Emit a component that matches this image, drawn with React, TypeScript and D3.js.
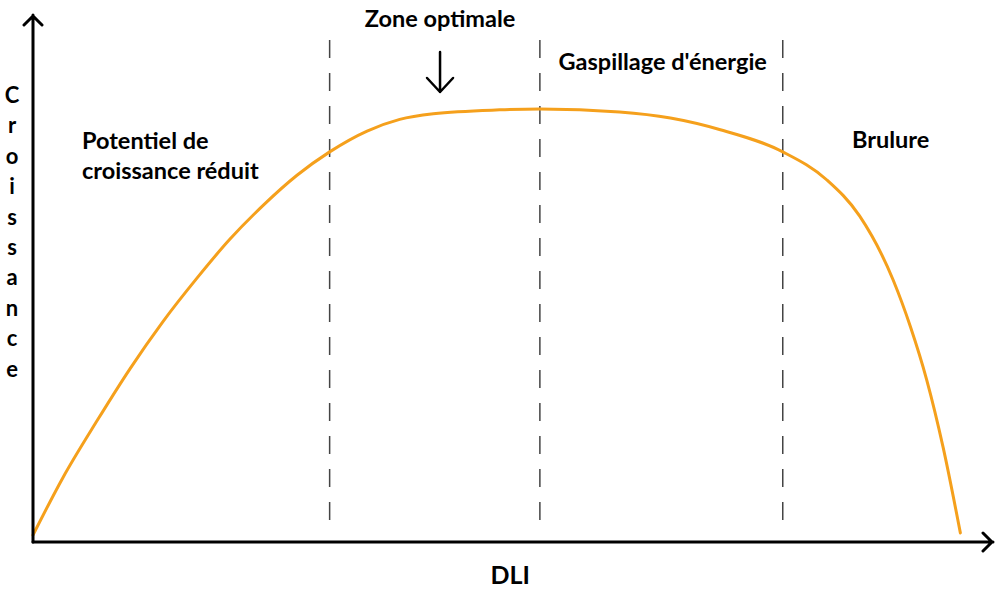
import React, { useEffect, useRef } from "react";
import * as d3 from "d3";

const width = 1000;
const height = 591;
const space = {
    originX: 33,
    originY: 542,
    axisTop: 15,
    axisRight: 993,
};

// DLI (relative units) and growth (% of max)
const dli = [0, 3.1, 6.7, 10.1, 13.5, 17.1, 20.5, 24.0, 27.5, 30.9, 34.8, 38.2, 41.7, 48.6, 52.8, 61.1, 66.4, 71.6, 78.1, 82.7, 86.1, 89.6, 91.4, 93.1, 94.8, 96.6];
const growth = [1.6, 14.8, 28.1, 40.0, 50.8, 61.0, 69.9, 77.8, 84.7, 90.1, 94.9, 97.6, 98.9, 99.8, 100, 99.3, 97.9, 95.2, 90.1, 83.6, 75.3, 60.5, 49.7, 37.4, 21.9, 2.1];

// zone boundaries on the DLI axis
const boundaries = [30.9, 52.8, 78.1];

const yLabel = "Croissance";
const xLabel = "DLI";
const zoneLabels = [
    { lines: ["Potentiel de", "croissance réduit"], x: 5.1, y: 90.7, anchor: "start" },
    { lines: ["Zone optimale"], x: 42.4, y: 119, anchor: "middle" },
    { lines: ["Gaspillage d'énergie"], x: 65.6, y: 109, anchor: "middle" },
    { lines: ["Brulure"], x: 85.3, y: 91, anchor: "start" },
];

const orange = "#f5a01c";
const font = "Lato, 'Open Sans', sans-serif";

const GrowthCurve = () => {
    const ref = useRef<SVGSVGElement | null>(null);

    const chart = () => {
        const svg = d3.select(ref.current)
            .attr("width", width)
            .attr("height", height)
            .attr("viewBox", [0, 0, width, height]);
        svg.selectAll("*").remove();

        svg.append("rect").attr("width", width).attr("height", height).attr("fill", "#fff");

        const x = d3.scaleLinear([0, 100], [space.originX, space.originX + 960]);
        const y = d3.scaleLinear([0, 100], [space.originY, 109]);

        // dashed zone separators
        svg.append("g")
            .selectAll("line")
            .data(boundaries)
            .join("line")
            .attr("x1", d => x(d))
            .attr("x2", d => x(d))
            .attr("y1", 40)
            .attr("y2", 532)
            .attr("stroke", "#444")
            .attr("stroke-width", 1.5)
            .attr("stroke-dasharray", "18 15");

        const line = d3.line<number>()
            .x((_, i) => x(dli[i]))
            .y(d => y(d))
            .curve(d3.curveMonotoneX);

        svg.append("path")
            .datum(growth)
            .attr("fill", "none")
            .attr("stroke", orange)
            .attr("stroke-width", 3)
            .attr("stroke-linejoin", "round")
            .attr("stroke-linecap", "round")
            .attr("d", line);

        // axes with open arrow heads
        const axes = svg.append("g")
            .attr("fill", "none")
            .attr("stroke", "#000")
            .attr("stroke-width", 3)
            .attr("stroke-linejoin", "round")
            .attr("stroke-linecap", "round");
        axes.append("path")
            .attr("d", `M${space.originX},${space.originY}V${space.axisTop}M${space.originX - 9},${space.axisTop + 10}L${space.originX},${space.axisTop + 1}L${space.originX + 9},${space.axisTop + 10}`);
        axes.append("path")
            .attr("d", `M${space.originX},${space.originY}H${space.axisRight}M${space.axisRight - 10},${space.originY - 9}L${space.axisRight - 1},${space.originY}L${space.axisRight - 10},${space.originY + 9}`);

        // arrow pointing at the optimal zone
        const ax = x(42.4);
        svg.append("path")
            .attr("d", `M${ax},52V92M${ax - 13},78L${ax},92L${ax + 13},78`)
            .attr("fill", "none")
            .attr("stroke", "#000")
            .attr("stroke-width", 2.5)
            .attr("stroke-linecap", "round")
            .attr("stroke-linejoin", "round");

        // zone labels
        const labels = svg.append("g")
            .attr("font-family", font)
            .attr("font-weight", 700)
            .attr("font-size", 23.5)
            .attr("fill", "#000");
        zoneLabels.forEach(z => {
            const t = labels.append("text")
                .attr("x", x(z.x))
                .attr("y", y(z.y))
                .attr("text-anchor", z.anchor);
            z.lines.forEach((l, i) => {
                t.append("tspan")
                    .attr("x", x(z.x))
                    .attr("dy", i === 0 ? 0 : 30)
                    .text(l);
            });
        });

        // stacked vertical axis title
        svg.append("g")
            .attr("font-family", font)
            .attr("font-weight", 700)
            .attr("font-size", 22)
            .attr("text-anchor", "middle")
            .selectAll("text")
            .data(yLabel.split(""))
            .join("text")
            .attr("x", 12)
            .attr("y", (_, i) => 103 + i * 30.4)
            .text(d => d);

        svg.append("text")
            .attr("x", x(49.7))
            .attr("y", 584)
            .attr("text-anchor", "middle")
            .attr("font-family", font)
            .attr("font-weight", 700)
            .attr("font-size", 25)
            .text(xLabel);
    };

    useEffect(() => {
        chart();
    }, []);

    return (
        <svg ref={ref} style={{ position: "absolute", left: 0, top: 0 }} />
    );
};

export default function App() {
    return <GrowthCurve />;
}
